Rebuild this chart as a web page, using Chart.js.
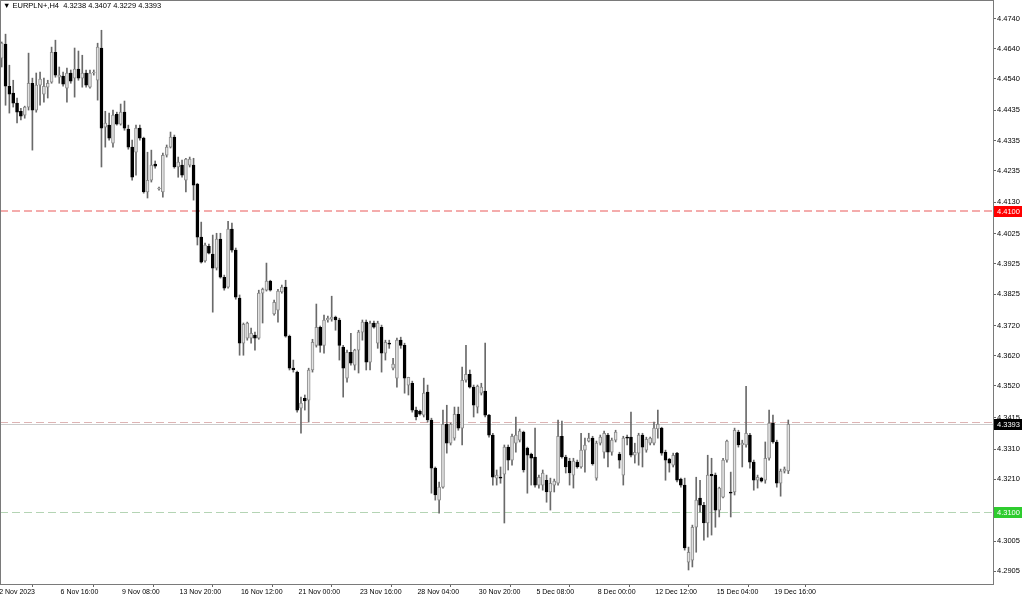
<!DOCTYPE html>
<html>
<head>
<meta charset="utf-8">
<title>EURPLN+,H4</title>
<script src="https://cdn.jsdelivr.net/npm/chart.js@4.4.0/dist/chart.umd.min.js"></script>
<style>
  html, body { margin: 0; padding: 0; background: #fff; }
  #wrap { position: relative; width: 1024px; height: 599px; overflow: hidden; }
  #head { position: absolute; left: 3px; top: 2px; font: 7.5px 'Liberation Sans', Arial, sans-serif; line-height: 8px; color: #000; white-space: pre; }
</style>
</head>
<body>
<div id="wrap">
  <canvas id="chart" width="1024" height="599"></canvas>
  <div id="head"></div>
</div>
<script>
// EURPLN+ H4, 2 Nov 2023 00:00 -> 20 Dec 2023 04:00 (bar index = position on the time axis)
const symbol = 'EURPLN+,H4';

const timeLabels = ['2 Nov 2023', '6 Nov 16:00', '9 Nov 08:00', '13 Nov 20:00', '16 Nov 12:00', '21 Nov 00:00',
  '23 Nov 16:00', '28 Nov 04:00', '30 Nov 20:00', '5 Dec 08:00', '8 Dec 00:00', '12 Dec 12:00',
  '15 Dec 04:00', '19 Dec 16:00'];
const timeLabelBars = [0, 16, 32, 47, 63, 78, 94, 109, 125, 140, 156, 171, 187, 202];

const priceTicks = [4.4740, 4.4640, 4.4540, 4.4435, 4.4335, 4.4235, 4.4130, 4.4025, 4.3925, 4.3825,
  4.3720, 4.3620, 4.3520, 4.3415, 4.3310, 4.3210, 4.3110, 4.3005, 4.2905];

const alertLevel = 4.4100;
const askLevel = 4.3400;
const orderLevel = 4.3100;

const open = [
  4.4608, 4.4655, 4.4515, 4.4492, 4.4459, 4.4432, 4.4419, 4.4446, 4.4525, 4.4436,
  4.4519, 4.4489, 4.4512, 4.4529, 4.4628, 4.4545, 4.4549, 4.4509, 4.4559, 4.4542,
  4.4572, 4.4542, 4.4559, 4.4512, 4.4559, 4.4535, 4.4642, 4.4379, 4.4386, 4.4326,
  4.4422, 4.4389, 4.4429, 4.4373, 4.4313, 4.4296, 4.4376, 4.4343, 4.4164, 4.4203,
  4.4257, 4.4174, 4.4164, 4.4286, 4.4313, 4.4346, 4.4247, 4.4253, 4.4203, 4.4253,
  4.4253, 4.4190, 4.4014, 4.3935, 4.3984, 4.3958, 4.3911, 4.4008, 4.3881, 4.3848,
  4.4041, 4.3971, 4.3812, 4.3662, 4.3679, 4.3679, 4.3689, 4.3679, 4.3828, 4.3838,
  4.3868, 4.3759, 4.3772, 4.3832, 4.3848, 4.3685, 4.3579, 4.3566, 4.3446, 4.3479,
  4.3473, 4.3573, 4.3655, 4.3715, 4.3655, 4.3739, 4.3742, 4.3749, 4.3739, 4.3649,
  4.3546, 4.3632, 4.3589, 4.3639, 4.3699, 4.3732, 4.3599, 4.3729, 4.3662, 4.3715,
  4.3629, 4.3662, 4.3579, 4.3546, 4.3672, 4.3655, 4.3523, 4.3529, 4.3440, 4.3436,
  4.3423, 4.3500, 4.3407, 4.3247, 4.3141, 4.3184, 4.3393, 4.3330, 4.3347, 4.3426,
  4.3380, 4.3539, 4.3559, 4.3516, 4.3450, 4.3496, 4.3503, 4.3423, 4.3357, 4.3214,
  4.3217, 4.3227, 4.3317, 4.3274, 4.3330, 4.3340, 4.3367, 4.3314, 4.3294, 4.3284,
  4.3191, 4.3191, 4.3207, 4.3168, 4.3191, 4.3197, 4.3353, 4.3284, 4.3271, 4.3224,
  4.3267, 4.3251, 4.3307, 4.3337, 4.3347, 4.3214, 4.3330, 4.3300, 4.3357, 4.3300,
  4.3340, 4.3294, 4.3224, 4.3350, 4.3350, 4.3290, 4.3297, 4.3357, 4.3307, 4.3330,
  4.3330, 4.3377, 4.3380, 4.3300, 4.3277, 4.3257, 4.3297, 4.3211, 4.3191, 4.2935,
  4.2942, 4.3051, 4.3148, 4.3124, 4.3065, 4.3227, 4.3224, 4.3108, 4.3151, 4.3274,
  4.3168, 4.3168, 4.3367, 4.3324, 4.3324, 4.3357, 4.3267, 4.3207, 4.3214, 4.3207,
  4.3280, 4.3397, 4.3334, 4.3197, 4.3237, 4.3238
];
const high = [
  4.4662, 4.4688, 4.4585, 4.4535, 4.4476, 4.4442, 4.4449, 4.4625, 4.4542, 4.4559,
  4.4562, 4.4542, 4.4535, 4.4645, 4.4668, 4.4579, 4.4562, 4.4575, 4.4569, 4.4642,
  4.4632, 4.4618, 4.4569, 4.4569, 4.4569, 4.4658, 4.4701, 4.4432, 4.4426, 4.4436,
  4.4429, 4.4456, 4.4466, 4.4386, 4.4336, 4.4386, 4.4386, 4.4346, 4.4296, 4.4303,
  4.4267, 4.4180, 4.4293, 4.4320, 4.4363, 4.4353, 4.4280, 4.4270, 4.4276, 4.4280,
  4.4276, 4.4193, 4.4064, 4.3994, 4.3991, 4.4021, 4.4027, 4.4027, 4.3888, 4.4067,
  4.4061, 4.3978, 4.3822, 4.3729, 4.3732, 4.3712, 4.3699, 4.3838, 4.3845, 4.3928,
  4.3871, 4.3805, 4.3841, 4.3855, 4.3871, 4.3689, 4.3606, 4.3569, 4.3483, 4.3490,
  4.3579, 4.3675, 4.3792, 4.3719, 4.3755, 4.3752, 4.3818, 4.3752, 4.3745, 4.3655,
  4.3639, 4.3695, 4.3642, 4.3705, 4.3739, 4.3739, 4.3735, 4.3735, 4.3735, 4.3722,
  4.3672, 4.3672, 4.3612, 4.3679, 4.3682, 4.3662, 4.3549, 4.3536, 4.3450, 4.3440,
  4.3546, 4.3523, 4.3413, 4.3251, 4.3201, 4.3440, 4.3456, 4.3397, 4.3450, 4.3450,
  4.3583, 4.3655, 4.3573, 4.3523, 4.3523, 4.3529, 4.3662, 4.3426, 4.3363, 4.3241,
  4.3251, 4.3324, 4.3324, 4.3360, 4.3417, 4.3377, 4.3370, 4.3317, 4.3297, 4.3380,
  4.3224, 4.3241, 4.3224, 4.3214, 4.3211, 4.3407, 4.3403, 4.3290, 4.3280, 4.3280,
  4.3274, 4.3363, 4.3347, 4.3363, 4.3353, 4.3337, 4.3357, 4.3370, 4.3363, 4.3347,
  4.3373, 4.3300, 4.3353, 4.3357, 4.3433, 4.3330, 4.3363, 4.3363, 4.3350, 4.3350,
  4.3400, 4.3440, 4.3383, 4.3307, 4.3280, 4.3297, 4.3300, 4.3214, 4.3214, 4.2985,
  4.3058, 4.3217, 4.3207, 4.3134, 4.3290, 4.3280, 4.3231, 4.3184, 4.3280, 4.3340,
  4.3234, 4.3380, 4.3373, 4.3340, 4.3519, 4.3363, 4.3274, 4.3224, 4.3217, 4.3334,
  4.3440, 4.3423, 4.3340, 4.3244, 4.3251, 4.3407
];
const low = [
  4.4579, 4.4452, 4.4426, 4.4446, 4.4393, 4.4403, 4.4409, 4.4436, 4.4303, 4.4429,
  4.4452, 4.4462, 4.4476, 4.4525, 4.4545, 4.4525, 4.4515, 4.4462, 4.4525, 4.4479,
  4.4535, 4.4512, 4.4512, 4.4509, 4.4552, 4.4469, 4.4247, 4.4313, 4.4336, 4.4313,
  4.4386, 4.4386, 4.4369, 4.4306, 4.4203, 4.4220, 4.4336, 4.4160, 4.4144, 4.4197,
  4.4243, 4.4170, 4.4147, 4.4280, 4.4310, 4.4243, 4.4213, 4.4213, 4.4164, 4.4247,
  4.4137, 4.3988, 4.3928, 4.3931, 4.3958, 4.3765, 4.3905, 4.3878, 4.3838, 4.3845,
  4.3964, 4.3808, 4.3622, 4.3622, 4.3672, 4.3662, 4.3639, 4.3675, 4.3729, 4.3835,
  4.3835, 4.3755, 4.3732, 4.3828, 4.3682, 4.3573, 4.3566, 4.3433, 4.3363, 4.3440,
  4.3400, 4.3566, 4.3649, 4.3632, 4.3629, 4.3732, 4.3735, 4.3705, 4.3606, 4.3483,
  4.3533, 4.3589, 4.3573, 4.3563, 4.3672, 4.3573, 4.3573, 4.3712, 4.3645, 4.3566,
  4.3606, 4.3645, 4.3573, 4.3516, 4.3645, 4.3496, 4.3490, 4.3433, 4.3407, 4.3423,
  4.3417, 4.3400, 4.3164, 4.3141, 4.3098, 4.3181, 4.3297, 4.3324, 4.3340, 4.3373,
  4.3324, 4.3533, 4.3513, 4.3417, 4.3430, 4.3490, 4.3417, 4.3350, 4.3191, 4.3191,
  4.3197, 4.3065, 4.3241, 4.3257, 4.3300, 4.3334, 4.3234, 4.3164, 4.3191, 4.3184,
  4.3181, 4.3174, 4.3134, 4.3108, 4.3168, 4.3191, 4.3280, 4.3231, 4.3191, 4.3181,
  4.3247, 4.3247, 4.3234, 4.3334, 4.3257, 4.3207, 4.3324, 4.3280, 4.3251, 4.3290,
  4.3334, 4.3247, 4.3191, 4.3324, 4.3284, 4.3264, 4.3257, 4.3251, 4.3300, 4.3324,
  4.3324, 4.3347, 4.3290, 4.3207, 4.3234, 4.3251, 4.3201, 4.3184, 4.2975, 4.2909,
  4.2919, 4.2968, 4.3101, 4.3008, 4.3018, 4.3025, 4.3051, 4.3085, 4.3148, 4.3267,
  4.3085, 4.3158, 4.3317, 4.3251, 4.3317, 4.3247, 4.3174, 4.3181, 4.3201, 4.3197,
  4.3274, 4.3330, 4.3184, 4.3154, 4.3231, 4.3229
];
const close = [
  4.4658, 4.4515, 4.4489, 4.4459, 4.4429, 4.4416, 4.4446, 4.4525, 4.4436, 4.4519,
  4.4539, 4.4515, 4.4525, 4.4628, 4.4552, 4.4552, 4.4522, 4.4559, 4.4532, 4.4572,
  4.4542, 4.4559, 4.4519, 4.4559, 4.4562, 4.4645, 4.4376, 4.4393, 4.4343, 4.4419,
  4.4389, 4.4429, 4.4376, 4.4313, 4.4213, 4.4376, 4.4343, 4.4164, 4.4203, 4.4253,
  4.4250, 4.4177, 4.4286, 4.4313, 4.4346, 4.4247, 4.4263, 4.4220, 4.4273, 4.4273,
  4.4187, 4.4014, 4.3931, 4.3988, 4.3961, 4.3911, 4.4008, 4.3881, 4.3845, 4.4041,
  4.3971, 4.3815, 4.3662, 4.3725, 4.3729, 4.3695, 4.3679, 4.3828, 4.3841, 4.3868,
  4.3838, 4.3798, 4.3835, 4.3848, 4.3685, 4.3579, 4.3573, 4.3440, 4.3463, 4.3470,
  4.3573, 4.3665, 4.3715, 4.3655, 4.3739, 4.3745, 4.3749, 4.3739, 4.3655, 4.3579,
  4.3632, 4.3596, 4.3639, 4.3699, 4.3732, 4.3599, 4.3729, 4.3715, 4.3729, 4.3629,
  4.3665, 4.3659, 4.3593, 4.3672, 4.3655, 4.3546, 4.3549, 4.3440, 4.3417, 4.3426,
  4.3496, 4.3407, 4.3247, 4.3158, 4.3184, 4.3393, 4.3330, 4.3393, 4.3426, 4.3380,
  4.3539, 4.3559, 4.3516, 4.3456, 4.3519, 4.3516, 4.3423, 4.3357, 4.3217, 4.3224,
  4.3214, 4.3317, 4.3274, 4.3353, 4.3357, 4.3370, 4.3241, 4.3290, 4.3280, 4.3191,
  4.3217, 4.3231, 4.3168, 4.3197, 4.3204, 4.3353, 4.3284, 4.3251, 4.3231, 4.3271,
  4.3251, 4.3307, 4.3324, 4.3347, 4.3261, 4.3330, 4.3350, 4.3363, 4.3300, 4.3340,
  4.3367, 4.3274, 4.3347, 4.3347, 4.3290, 4.3300, 4.3357, 4.3317, 4.3343, 4.3347,
  4.3380, 4.3393, 4.3297, 4.3274, 4.3264, 4.3290, 4.3207, 4.3191, 4.2982, 4.2968,
  4.3051, 4.3141, 4.3124, 4.3065, 4.3224, 4.3221, 4.3108, 4.3181, 4.3274, 4.3337,
  4.3164, 4.3373, 4.3324, 4.3330, 4.3363, 4.3267, 4.3207, 4.3217, 4.3204, 4.3280,
  4.3397, 4.3334, 4.3197, 4.3237, 4.3244, 4.3393
];

const last = close.length - 1;
const bidLevel = close[last];
const fmt = (v) => v.toFixed(4);

document.getElementById('head').textContent =
  '\u25BC ' + symbol + '  ' + fmt(open[last]) + ' ' + fmt(high[last]) + ' ' + fmt(low[last]) + ' ' + fmt(close[last]);

const bars = close.map((c, i) => i);
const isBull = bars.map((i) => close[i] >= open[i]);

const FAMILY = "'Liberation Sans', Arial, sans-serif";

// level lines, frame and the price boxes on the axis
const overlay = {
  id: 'overlay',
  beforeDatasetsDraw(chart) {
    const { ctx, chartArea: a, scales: { y } } = chart;
    ctx.save();
    const hline = (v, color, dash, width) => {
      const py = Math.round(y.getPixelForValue(v)) + (width % 2 ? 0.5 : 0);
      ctx.lineWidth = width;
      ctx.strokeStyle = color;
      ctx.setLineDash(dash);
      ctx.beginPath();
      ctx.moveTo(a.left, py);
      ctx.lineTo(a.right, py);
      ctx.stroke();
    };
    hline(alertLevel, '#f4acac', [8, 4], 2);
    hline(orderLevel, '#b4d4b4', [8, 4], 1);
    hline(bidLevel, '#cccccc', [], 1);
    hline(askLevel, '#ddb4b4', [8, 4], 1);
    ctx.restore();
  },
  afterDraw(chart) {
    const { ctx, chartArea: a, scales: { y } } = chart;
    ctx.save();
    ctx.strokeStyle = '#7a7a7a';
    ctx.lineWidth = 1;
    ctx.strokeRect(a.left + 0.5, a.top - 0.5, a.right - a.left, a.bottom - a.top + 1);

    const box = (v, bg) => {
      const py = Math.round(y.getPixelForValue(v));
      ctx.fillStyle = bg;
      ctx.fillRect(a.right + 1, py - 5, 28, 11);
      ctx.fillStyle = '#fff';
      ctx.font = '7.5px ' + FAMILY;
      ctx.textBaseline = 'middle';
      ctx.textAlign = 'left';
      ctx.fillText(fmt(v), a.right + 4, py + 0.5);
    };
    box(alertLevel, '#ff0000');
    box(bidLevel, '#000000');
    box(orderLevel, '#2ecc2e');
    ctx.restore();
  }
};

new Chart(document.getElementById('chart'), {
  type: 'bar',
  data: {
    datasets: [
      {
        label: 'body',
        data: bars.map((i) => ({ x: i, y: [open[i], close[i]] })),
        backgroundColor: bars.map((i) => (isBull[i] ? '#e2e2e2' : '#000000')),
        borderColor: bars.map((i) => (isBull[i] ? '#8c8c8c' : '#000000')),
        borderWidth: 1,
        borderSkipped: false,
        barThickness: 3,
        minBarLength: 1,
        grouped: false,
        order: 1
      },
      {
        label: 'wick',
        data: bars.map((i) => ({ x: i, y: [low[i], high[i]] })),
        backgroundColor: '#6a6a6a',
        borderWidth: 0,
        barThickness: 1,
        minBarLength: 1,
        grouped: false,
        order: 2
      }
    ]
  },
  options: {
    responsive: false,
    devicePixelRatio: 1,
    animation: false,
    events: [],
    layout: { padding: { top: 1, left: 0, right: 0, bottom: 0 } },
    plugins: { legend: { display: false }, tooltip: { enabled: false } },
    scales: {
      x: {
        type: 'linear',
        offset: false,
        min: -0.443,
        max: 258.35,
        afterBuildTicks: (scale) => { scale.ticks = timeLabelBars.map((v) => ({ value: v })); },
        afterFit: (scale) => { scale.height = 15; scale.paddingLeft = 0; scale.paddingRight = 0; },
        grid: { drawOnChartArea: false, drawTicks: true, tickLength: 3, color: '#666' },
        border: { display: false },
        ticks: {
          autoSkip: false,
          maxRotation: 0,
          align: 'start',
          labelOffset: -2.5,
          padding: 1,
          color: '#000',
          font: { family: FAMILY, size: 7 },
          callback: (v) => timeLabels[timeLabelBars.indexOf(v)] || ''
        }
      },
      y: {
        type: 'linear',
        position: 'right',
        min: 4.28625,
        max: 4.47981,
        afterBuildTicks: (scale) => { scale.ticks = priceTicks.map((v) => ({ value: v })); },
        afterFit: (scale) => { scale.width = 31; scale.paddingTop = 0; scale.paddingBottom = 0; },
        grid: { drawOnChartArea: false, drawTicks: true, tickLength: 3, color: '#666' },
        border: { display: false },
        ticks: {
          autoSkip: false,
          padding: 1,
          color: '#000',
          font: { family: FAMILY, size: 7.5 },
          callback: (v) => fmt(v)
        }
      }
    }
  },
  plugins: [overlay]
});
</script>
</body>
</html>
